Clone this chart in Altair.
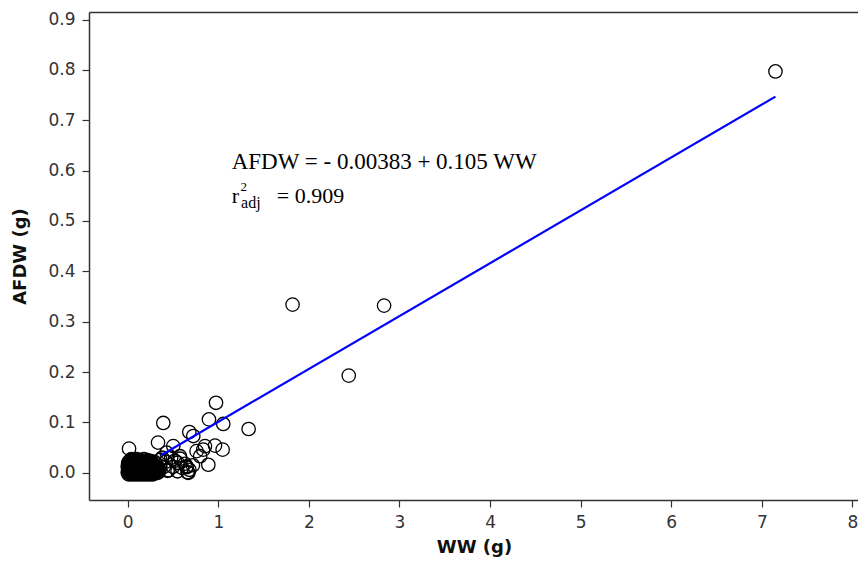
import altair as alt
import pandas as pd

# Scatter data: wet weight (WW, g) and ash-free dry weight (AFDW, g)
ww = [
    # dense cluster near origin
    0.01, 0.04, 0.07, 0.10, 0.13, 0.16, 0.19, 0.22, 0.25, 0.28,
    0.025, 0.055, 0.085, 0.115, 0.145, 0.175, 0.205, 0.235, 0.265, 0.295,
    0.00, 0.03, 0.06, 0.09, 0.12, 0.15, 0.18, 0.21, 0.24, 0.27, 0.30, 0.33,
    0.015, 0.045, 0.075, 0.105, 0.135, 0.165, 0.195, 0.225, 0.255, 0.285, 0.315, 0.345,
    0.02, 0.05, 0.08, 0.11, 0.14, 0.17, 0.20, 0.23, 0.26, 0.29, 0.32, 0.35,
    0.005, 0.035, 0.065, 0.095, 0.125, 0.155, 0.185, 0.215, 0.245, 0.275, 0.305, 0.335,
    0.01, 0.04, 0.07, 0.10, 0.13, 0.16, 0.19, 0.22, 0.25, 0.28, 0.31, 0.34,
    0.025, 0.055, 0.085, 0.115, 0.145, 0.175, 0.205, 0.235, 0.265, 0.295, 0.325,
    0.00, 0.03, 0.06, 0.09, 0.12, 0.15, 0.18, 0.21, 0.24, 0.27, 0.30, 0.36,
    0.015, 0.045, 0.075, 0.105, 0.135, 0.165, 0.195, 0.225, 0.255, 0.285,
    0.02, 0.05, 0.08, 0.11, 0.14, 0.17, 0.20, 0.23, 0.26, 0.32,
    0.005, 0.035, 0.065, 0.095, 0.125, 0.17, 0.215, 0.27,
    0.01, 0.04, 0.07, 0.10, 0.15, 0.19, 0.24, 0.30,
    0.02, 0.05, 0.09, 0.12, 0.17, 0.21, 0.26,
    0.03, 0.08, 0.14, 0.22,
    0.04, 0.10, 0.18,
    0.008, 0.048, 0.092, 0.132, 0.172, 0.212, 0.252, 0.292, 0.332,
    0.028, 0.068, 0.112, 0.152, 0.192, 0.232, 0.272, 0.312,
    # edge of cluster
    0.45, 0.50, 0.55, 0.60, 0.63, 0.68, 0.72, 0.42, 0.48, 0.38, 0.58, 0.66, 0.65,
    0.40, 0.44, 0.52, 0.36,
    # scattered points
    0.975, 0.393, 0.897, 1.055, 1.335, 0.680, 0.724, 0.015, 0.335, 0.503,
    0.964, 1.048, 0.853, 0.834, 0.890, 0.650, 0.670, 0.577, 0.760, 0.800,
    0.430, 0.550,
    1.82, 2.83, 2.44, 7.15,
]
afdw = [
    -0.003, -0.003, -0.003, -0.003, -0.003, -0.003, -0.003, -0.003, -0.003, -0.003,
    -0.001, -0.001, -0.001, -0.001, -0.001, -0.001, -0.001, -0.001, -0.001, -0.001,
    0.001, 0.001, 0.001, 0.001, 0.001, 0.001, 0.001, 0.001, 0.001, 0.001, 0.001, 0.001,
    0.003, 0.003, 0.003, 0.003, 0.003, 0.003, 0.003, 0.003, 0.003, 0.003, 0.003, 0.003,
    0.005, 0.005, 0.005, 0.005, 0.005, 0.005, 0.005, 0.005, 0.005, 0.005, 0.005, 0.005,
    0.007, 0.007, 0.007, 0.007, 0.007, 0.007, 0.007, 0.007, 0.007, 0.007, 0.007, 0.007,
    0.009, 0.009, 0.009, 0.009, 0.009, 0.009, 0.009, 0.009, 0.009, 0.009, 0.009, 0.009,
    0.011, 0.011, 0.011, 0.011, 0.011, 0.011, 0.011, 0.011, 0.011, 0.011, 0.011,
    0.013, 0.013, 0.013, 0.013, 0.013, 0.013, 0.013, 0.013, 0.013, 0.013, 0.013, 0.013,
    0.015, 0.015, 0.015, 0.015, 0.015, 0.015, 0.015, 0.015, 0.015, 0.015,
    0.017, 0.017, 0.017, 0.017, 0.017, 0.017, 0.017, 0.017, 0.017, 0.017,
    0.019, 0.019, 0.019, 0.019, 0.019, 0.019, 0.019, 0.019,
    0.021, 0.021, 0.021, 0.021, 0.021, 0.021, 0.021, 0.021,
    0.023, 0.023, 0.023, 0.023, 0.023, 0.023, 0.023,
    0.025, 0.025, 0.025, 0.025,
    0.027, 0.027, 0.027,
    0.000, 0.000, 0.000, 0.000, 0.000, 0.000, 0.000, 0.000, 0.000,
    0.010, 0.010, 0.010, 0.010, 0.010, 0.010, 0.010, 0.010,
    0.005, 0.012, 0.003, 0.010, 0.018, 0.006, 0.015, 0.022, 0.030, 0.030, 0.028, 0.001, 0.011,
    0.012, 0.004, 0.024, 0.026,
    0.139, 0.099, 0.106, 0.097, 0.087, 0.081, 0.073, 0.048, 0.060, 0.053,
    0.054, 0.046, 0.053, 0.046, 0.016, 0.013, 0.000, 0.033, 0.043, 0.033,
    0.040, 0.020,
    0.334, 0.332, 0.193, 0.797,
]

# Fitted line: AFDW = -0.00383 + 0.105 WW (visible end points)
fit_ww = [0.37, 7.15]
fit_afdw = [0.035, 0.747]

# Annotation text pieces
ann_text = ["AFDW = - 0.00383 + 0.105 WW", "r", "2", "adj", "= 0.909"]
ann_x = [1.148, 1.148, 1.245, 1.252, 1.645]
ann_y = [0.6037, 0.5361, 0.5590, 0.5268, 0.5361]
ann_size = [23, 22, 13, 16, 22]

pts = pd.DataFrame({"ww": ww, "afdw": afdw})
fit = pd.DataFrame({"ww": fit_ww, "afdw": fit_afdw})
ann = pd.DataFrame({"x": ann_x, "y": ann_y, "t": ann_text, "fs": ann_size})

xs = alt.Scale(domain=[-0.427, 8.061], nice=False, zero=False)
ys = alt.Scale(domain=[-0.054, 0.915], nice=False, zero=False)

axis_common = dict(
    labelFont="DejaVu Sans", labelFontSize=17, labelColor="#333333",
    titleFont="DejaVu Sans", titleFontSize=18, titleFontWeight="bold", titleColor="#111111",
    domainColor="#333333", domainWidth=1.5, tickColor="#333333", tickWidth=1.2,
    tickSize=7, labelPadding=7, grid=False,
)

x_axis = alt.Axis(values=[0, 1, 2, 3, 4, 5, 6, 7, 8], format="d", title="WW (g)",
                  titleX=385, titleY=47, titleBaseline="middle", **axis_common)
y_axis = alt.Axis(values=[0, 0.1, 0.2, 0.3, 0.4, 0.5, 0.6, 0.7, 0.8, 0.9], format=".1f",
                  title="AFDW (g)", titleX=-69, titleY=244, titleAngle=-90,
                  titleAlign="center", titleBaseline="middle", **axis_common)

points = alt.Chart(pts).mark_point(
    shape="circle", filled=False, size=180, stroke="black", strokeWidth=1.3, opacity=1
).encode(
    x=alt.X("ww:Q", scale=xs, axis=x_axis),
    y=alt.Y("afdw:Q", scale=ys, axis=y_axis),
)

top_frame = alt.Chart(pts).mark_point(opacity=0).encode(
    x=alt.X("ww:Q", scale=xs, axis=alt.Axis(orient="top", labels=False, ticks=False,
                                           title=None, domainColor="#333333",
                                           domainWidth=1.5, grid=False)),
    y=alt.Y("afdw:Q", scale=ys, axis=y_axis),
)

line = alt.Chart(fit).mark_line(color="#0000ff", strokeWidth=2.2).encode(
    x=alt.X("ww:Q", scale=xs, axis=None),
    y=alt.Y("afdw:Q", scale=ys),
)

text = alt.Chart(ann).mark_text(
    font="Liberation Serif", align="left", baseline="alphabetic", color="black"
).encode(
    x=alt.X("x:Q", scale=xs, axis=None),
    y=alt.Y("y:Q", scale=ys),
    text="t:N",
    size=alt.Size("fs:Q", scale=None, legend=None),
)

chart = alt.layer(points, top_frame, line, text).resolve_axis(x="independent").properties(
    width=769, height=488,
    autosize=alt.AutoSizeParams(type="none"),
    padding={"left": 89, "top": 12, "right": 0, "bottom": 62},
    background="white",
).configure_view(stroke=None)

chart.save("out.html", embed_options={"renderer": "svg", "actions": False})
